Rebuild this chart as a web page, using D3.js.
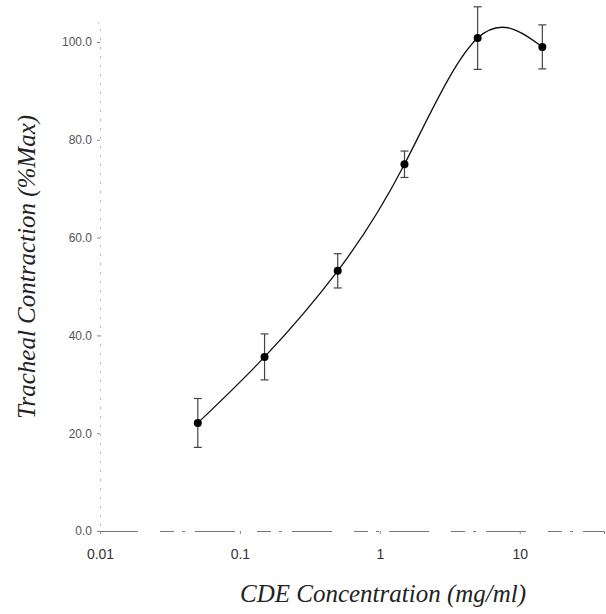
<!DOCTYPE html>
<html>
<head>
<meta charset="utf-8">
<script src="https://cdn.jsdelivr.net/npm/d3@7"></script>
<style>
  body { margin: 0; background: white; }
  .tick text { font-family: "Liberation Sans", Arial, sans-serif; fill: #333; }
  .titulo { font-family: "Liberation Serif", "Times New Roman", serif; font-style: italic; font-size: 25px; fill: #222; }
</style>
</head>
<body>
<div id="grafico"></div>
<script>
// Datos
const concentraciones = [0.05, 0.15, 0.5, 1.5, 5, 14.5]
const contraccion = [22.1, 35.6, 53.2, 75.0, 100.8, 99.0]
const errores = [5.0, 4.7, 3.5, 2.7, 6.4, 4.5]
const ticksX = [0.01, 0.1, 1, 10]
const ticksY = [0, 20, 40, 60, 80, 100]

const data = concentraciones.map((c, i) => ({ x: c, y: contraccion[i], e: errores[i] }))

const anchoTotal = 606
const altoTotal = 614

const svg = d3
  .select("#grafico")
  .append("svg")
  .attr("width", anchoTotal)
  .attr("height", altoTotal)

// Escaladores
const x = d3.scaleLog().domain([0.01, 40]).range([100, 604])
const y = d3.scaleLinear().domain([0, 104]).range([531, 531 - 104 * 4.89])

// Ejes
const xAxis = d3
  .axisBottom(x)
  .tickValues(ticksX)
  .tickFormat((d) => String(d))
  .tickSize(3)
  .tickPadding(15)
const yAxis = d3
  .axisLeft(y)
  .tickValues(ticksY)
  .tickFormat(d3.format(".1f"))
  .tickSize(3)
  .tickPadding(5)

const xAxisGroup = svg
  .append("g")
  .attr("transform", `translate(0, ${y(0)})`)
  .call(xAxis)
xAxisGroup.selectAll(".tick text").style("font-size", "14px")

const yAxisGroup = svg
  .append("g")
  .attr("transform", `translate(${x(0.01)}, 0)`)
  .call(yAxis)
yAxisGroup.selectAll(".tick text").style("font-size", "12px").style("fill", "#555")

// Lineas de ejes tenues, como en el escaneo
xAxisGroup
  .select(".domain")
  .attr("stroke", "#777")
  .attr("stroke-dasharray", "40,22,14,8,3,10")
yAxisGroup
  .select(".domain")
  .attr("stroke", "#bbb")
  .attr("stroke-dasharray", "2,7")
svg.selectAll(".tick line").attr("stroke", "#888")

// Curva suavizada
const linea = d3
  .line()
  .x((d) => x(d.x))
  .y((d) => y(d.y))
  .curve(d3.curveNatural)

svg
  .append("path")
  .datum(data)
  .attr("d", linea)
  .attr("fill", "none")
  .attr("stroke", "#111")
  .attr("stroke-width", 1.3)

// Barras de error
const barras = svg.append("g").attr("stroke", "#444").attr("stroke-width", 1.2)
barras
  .selectAll("line.v")
  .data(data)
  .join("line")
  .attr("x1", (d) => x(d.x))
  .attr("x2", (d) => x(d.x))
  .attr("y1", (d) => y(d.y + d.e))
  .attr("y2", (d) => y(d.y - d.e))
barras
  .selectAll("line.top")
  .data(data)
  .join("line")
  .attr("class", "top")
  .attr("x1", (d) => x(d.x) - 4)
  .attr("x2", (d) => x(d.x) + 4)
  .attr("y1", (d) => y(d.y + d.e))
  .attr("y2", (d) => y(d.y + d.e))
barras
  .selectAll("line.bot")
  .data(data)
  .join("line")
  .attr("class", "bot")
  .attr("x1", (d) => x(d.x) - 4)
  .attr("x2", (d) => x(d.x) + 4)
  .attr("y1", (d) => y(d.y - d.e))
  .attr("y2", (d) => y(d.y - d.e))

// Puntos
svg
  .append("g")
  .selectAll("circle")
  .data(data)
  .join("circle")
  .attr("cx", (d) => x(d.x))
  .attr("cy", (d) => y(d.y))
  .attr("r", 4)
  .attr("fill", "#000")

// Titulos de ejes
svg
  .append("text")
  .attr("class", "titulo")
  .attr("x", 383)
  .attr("y", 602)
  .attr("text-anchor", "middle")
  .text("CDE Concentration (mg/ml)")

svg
  .append("text")
  .attr("class", "titulo")
  .attr("transform", "translate(35, 267) rotate(-90)")
  .attr("text-anchor", "middle")
  .text("Tracheal Contraction (%Max)")
</script>
</body>
</html>
